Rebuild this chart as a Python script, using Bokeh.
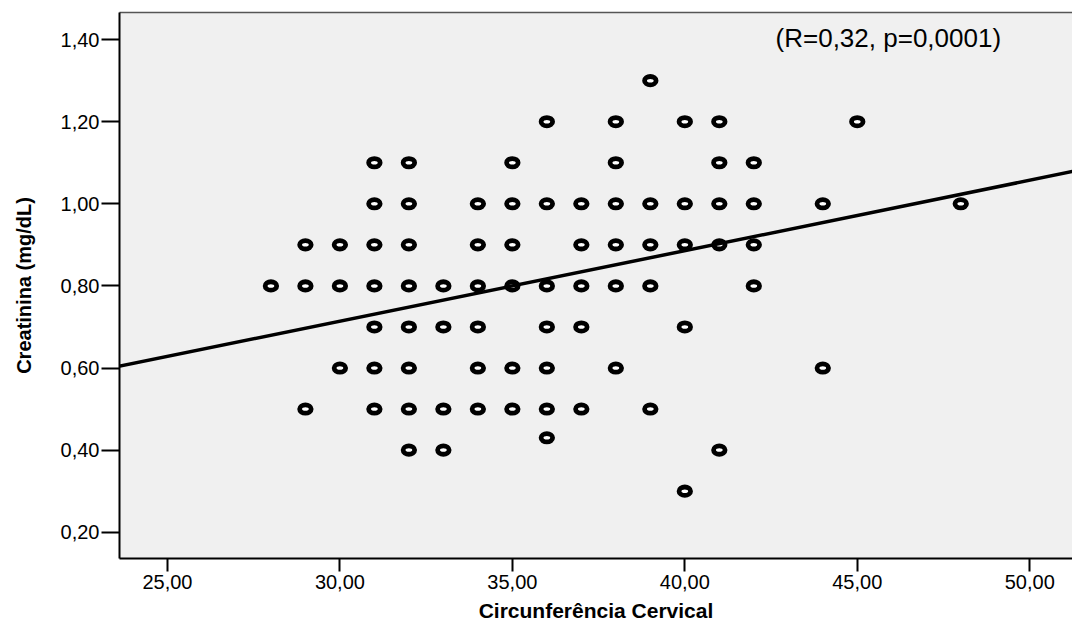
from bokeh.plotting import figure
from bokeh.models import ColumnDataSource, FixedTicker, Label, Slope, Range1d, LinearAxis
from bokeh.embed import file_html
from bokeh.resources import INLINE

# --- data ---
circ = [39,
        36, 38, 40, 41, 45,
        31, 32, 35, 38, 41, 42,
        31, 32, 34, 35, 36, 37, 38, 39, 40, 41, 42, 44, 48,
        29, 30, 31, 32, 34, 35, 37, 38, 39, 40, 41, 42,
        28, 29, 30, 31, 32, 33, 34, 35, 36, 37, 38, 39, 42,
        31, 32, 33, 34, 36, 37, 40,
        30, 31, 32, 34, 35, 36, 38, 44,
        29, 31, 32, 33, 34, 35, 36, 37, 39,
        36,
        32, 33, 41,
        40]
creat = [1.30,
         1.20, 1.20, 1.20, 1.20, 1.20,
         1.10, 1.10, 1.10, 1.10, 1.10, 1.10,
         1.00, 1.00, 1.00, 1.00, 1.00, 1.00, 1.00, 1.00, 1.00, 1.00, 1.00, 1.00, 1.00,
         0.90, 0.90, 0.90, 0.90, 0.90, 0.90, 0.90, 0.90, 0.90, 0.90, 0.90, 0.90,
         0.80, 0.80, 0.80, 0.80, 0.80, 0.80, 0.80, 0.80, 0.80, 0.80, 0.80, 0.80, 0.80,
         0.70, 0.70, 0.70, 0.70, 0.70, 0.70, 0.70,
         0.60, 0.60, 0.60, 0.60, 0.60, 0.60, 0.60, 0.60,
         0.50, 0.50, 0.50, 0.50, 0.50, 0.50, 0.50, 0.50, 0.50,
         0.43,
         0.40, 0.40, 0.40,
         0.30]

reg_intercept = 0.199
reg_slope = 0.01717

x_ticks = [25, 30, 35, 40, 45, 50]
x_tick_labels = ["25,00", "30,00", "35,00", "40,00", "45,00", "50,00"]
y_ticks = [0.2, 0.4, 0.6, 0.8, 1.0, 1.2, 1.4]
y_tick_labels = ["0,20", "0,40", "0,60", "0,80", "1,00", "1,20", "1,40"]

x_label = "Circunferência Cervical"
y_label = "Creatinina (mg/dL)"
annotation = "(R=0,32, p=0,0001)"

FONT = "Liberation Sans"

p = figure(width=1072, height=626, output_backend="svg", toolbar_location=None,
           x_range=Range1d(23.61, 51.24), y_range=Range1d(0.136, 1.466),
           min_border_left=119, min_border_right=0, min_border_top=12,
           min_border_bottom=68)

p.border_fill_color = "white"
p.background_fill_color = "#f0f0f0"
p.outline_line_color = None
p.xgrid.visible = False
p.ygrid.visible = False

# top frame line (no ticks / labels)
top = LinearAxis(ticker=FixedTicker(ticks=[]), axis_line_color="#555555",
                 axis_line_width=1.5, major_tick_line_color=None,
                 minor_tick_line_color=None)
p.add_layout(top, "above")

# axes
p.below[0].ticker = FixedTicker(ticks=x_ticks)
p.below[0].major_label_overrides = {t: l for t, l in zip(x_ticks, x_tick_labels)}
p.left[0].ticker = FixedTicker(ticks=y_ticks)
p.left[0].major_label_overrides = {t: l for t, l in zip(y_ticks, y_tick_labels)}

for ax in (p.below[0], p.left[0]):
    ax.axis_line_color = "black"
    ax.axis_line_width = 2
    ax.major_tick_line_color = "black"
    ax.major_tick_line_width = 2
    ax.major_tick_in = 0
    ax.minor_tick_line_color = None
    ax.major_label_text_font = FONT
    ax.major_label_text_font_size = "20px"
    ax.major_label_text_color = "black"
    ax.axis_label_text_font = FONT
    ax.axis_label_text_font_style = "bold"
    ax.axis_label_text_color = "black"

xa = p.below[0]
xa.major_tick_out = 13
xa.major_label_standoff = 3
xa.axis_label = x_label
xa.axis_label_text_font_size = "21px"
xa.axis_label_standoff = 7

ya = p.left[0]
ya.major_tick_out = 18
ya.major_label_standoff = 2
ya.axis_label = y_label
ya.axis_label_text_font_size = "20px"
ya.axis_label_standoff = 23

# regression line
p.add_layout(Slope(gradient=reg_slope, y_intercept=reg_intercept,
                   line_color="black", line_width=3.5))

# points
src = ColumnDataSource(data=dict(x=circ, y=creat))
p.ellipse(x="x", y="y", width=11.5, height=8.3, width_units="screen",
          height_units="screen", source=src, fill_color="white",
          line_color="black", line_width=4.8)

# annotation
p.add_layout(Label(x=45.9, y=1.404, text=annotation, text_align="center",
                   text_baseline="middle", text_font=FONT,
                   text_font_size="26px", text_color="black"))

open("out.html", "w").write(file_html(p, INLINE))
